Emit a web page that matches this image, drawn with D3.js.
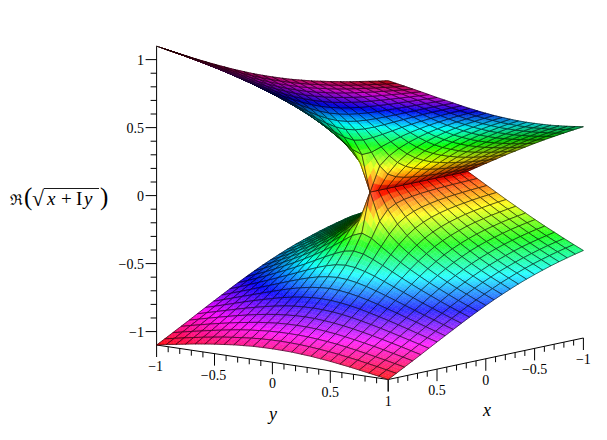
<!DOCTYPE html>
<html><head><meta charset="utf-8">
<script src="https://cdn.jsdelivr.net/npm/d3@7"></script>
<style>html,body{margin:0;padding:0;background:#fff}svg{display:block}text{font-family:"Liberation Serif",serif;fill:#000}</style>
</head><body><div id="c"></div><script>
const xGrid=[-1,-.9167,-.8333,-.75,-.6667,-.5833,-.5,-.4167,-.3333,-.25,-.1667,-.0833,0,.0833,.1667,.25,.3333,.4167,.5,.5833,.6667,.75,.8333,.9167,1];
const yGrid=xGrid;
// Height of the upper sheet along x, one list per |y| step (y = 0 ... 1). The lower sheet is its mirror image.
const zAtAbsY0=[0,0,0,0,0,0,0,0,0,0,0,0,0,.289,.408,.5,.577,.645,.707,.764,.816,.866,.913,.957,1];
const zAtAbsY1=[.042,.044,.046,.048,.051,.054,.059,.064,.072,.082,.099,.131,.204,.317,.420,.507,.582,.649,.710,.766,.818,.867,.914,.958,1.001];
const zAtAbsY2=[.083,.087,.091,.096,.101,.108,.116,.127,.140,.159,.186,.227,.289,.367,.449,.525,.594,.658,.717,.771,.823,.871,.917,.961,1.003];
const zAtAbsY3=[.124,.129,.135,.142,.151,.160,.172,.186,.204,.228,.259,.301,.354,.416,.483,.549,.612,.672,.728,.780,.830,.878,.923,.966,1.008];
const zAtAbsY4=[.165,.171,.179,.188,.198,.210,.225,.242,.263,.289,.321,.361,.408,.462,.519,.577,.634,.689,.742,.792,.840,.886,.930,.973,1.013];
const zAtAbsY5=[.204,.212,.222,.232,.245,.258,.274,.294,.317,.343,.375,.413,.456,.504,.555,.607,.658,.709,.759,.806,.852,.897,.939,.981,1.021];
const zAtAbsY6=[.243,.253,.263,.275,.289,.304,.322,.342,.366,.393,.424,.460,.500,.543,.589,.636,.683,.731,.777,.822,.866,.909,.950,.990,1.029];
const zAtAbsY7=[.281,.291,.303,.316,.331,.348,.366,.387,.411,.439,.469,.503,.540,.580,.622,.665,.709,.753,.796,.839,.881,.922,.962,1.001,1.039];
const zAtAbsY8=[.318,.329,.342,.356,.372,.389,.408,.430,.454,.480,.510,.543,.577,.614,.653,.694,.734,.776,.816,.857,.897,.936,.975,1.012,1.049];
const zAtAbsY9=[.353,.366,.379,.394,.410,.428,.448,.470,.493,.520,.548,.580,.612,.647,.684,.721,.760,.798,.837,.876,.914,.951,.989,1.025,1.061];
const zAtAbsY10=[.388,.401,.415,.431,.448,.466,.486,.508,.531,.557,.584,.614,.645,.679,.713,.748,.784,.821,.858,.895,.931,.967,1.003,1.038,1.073];
const zAtAbsY11=[.422,.436,.450,.466,.483,.501,.521,.543,.567,.591,.619,.647,.677,.708,.741,.775,.809,.844,.879,.914,.949,.983,1.018,1.052,1.085];
const zAtAbsY12=[.455,.469,.484,.500,.517,.536,.556,.577,.600,.625,.651,.678,.707,.737,.768,.800,.833,.866,.899,.933,.967,1.000,1.033,1.066,1.099];
const zByAbsY=[zAtAbsY0,zAtAbsY1,zAtAbsY2,zAtAbsY3,zAtAbsY4,zAtAbsY5,zAtAbsY6,zAtAbsY7,zAtAbsY8,zAtAbsY9,zAtAbsY10,zAtAbsY11,zAtAbsY12];
const zMajor=[-1,-.5,0,.5,1], zLabels=["−1","−0.5","0","0.5","1"];
const yMajor=[-1,-.5,0,.5,1], yLabels=["−1","−0.5","0","0.5","1"];
const xMajor=[.5,0,-.5,-1], xLabels=["0.5","0","−0.5","−1"];

const W=607,H=440;
const svg=d3.select("#c").append("svg").attr("width",W).attr("height",H).attr("viewBox",`0 0 ${W} ${H}`);
// oblique projection built out of linear scales
const xPx=d3.scaleLinear().domain([-1,1]).range([97.6,-97.6]);
const xPy=d3.scaleLinear().domain([-1,1]).range([-20.75,20.75]);
const yPx=d3.scaleLinear().domain([-1,1]).range([-115.8,115.8]);
const yPy=d3.scaleLinear().domain([-1,1]).range([-17.25,17.25]);
const zPy=d3.scaleLinear().domain([-1.0987,1.0987]).range([149.4,-149.4]);
const depthOf=(x,y,z)=>151.5*(.75*x+.64*y+.16*z);
const P=(x,y,z)=>[370+xPx(x)+yPx(y),192.1+xPy(x)+yPy(y)+zPy(z)];

const hue=d3.scaleLinear().domain([0,1.0987]).range([0,360]);
function shade(z,lit){
  const c=d3.rgb(d3.hsl(hue(Math.abs(z))%360,1,.5));
  const k=Math.min(lit,1), w=Math.max(0,Math.min((lit-1)*.3,.18));
  const f=v=>Math.round(v*k+(255-v*k)*w);
  return `rgb(${f(c.r)},${f(c.g)},${f(c.b)})`;
}
const n=xGrid.length;
function sheet(sign){
  const V=d3.range(n).map(i=>d3.range(n).map(j=>{
    const z=sign*zByAbsY[Math.abs(j-12)][i], p=P(xGrid[i],yGrid[j],z);
    return {z,p,q:[p[0],p[1],depthOf(xGrid[i],yGrid[j],z)],d:depthOf(xGrid[i],yGrid[j],z)};
  }));
  for(let i=0;i<n;i++)for(let j=0;j<n;j++){
    const a=V[Math.min(i+1,n-1)][j].q,b=V[Math.max(i-1,0)][j].q,c=V[i][Math.min(j+1,n-1)].q,e=V[i][Math.max(j-1,0)].q;
    const u=[a[0]-b[0],a[1]-b[1],a[2]-b[2]],w=[c[0]-e[0],c[1]-e[1],c[2]-e[2]];
    const m=[u[1]*w[2]-u[2]*w[1],u[2]*w[0]-u[0]*w[2],u[0]*w[1]-u[1]*w[0]];
    const nv=Math.abs(m[2])/Math.hypot(m[0],m[1],m[2]);
    V[i][j].lit=sign>0?.36+1.9*nv:.45+2*nv;
  }
  return V;
}
const cells=[];
[1,-1].forEach(s=>{const V=sheet(s);
  for(let i=0;i<n-1;i++)for(let j=0;j<n-1;j++){
    const c=[V[i][j],V[i+1][j],V[i+1][j+1],V[i][j+1]];
    cells.push({c,depth:d3.mean(c,d=>d.d)});
  }
});
cells.sort((a,b)=>a.depth-b.depth);
const SUB=3,items=[];
const path=pts=>"M"+pts.map(p=>p[0].toFixed(2)+","+p[1].toFixed(2)).join("L")+"Z";
cells.forEach(({c})=>{
  const at=(u,v)=>{
    const mix=g=>(1-u)*(1-v)*g(c[0])+u*(1-v)*g(c[1])+u*v*g(c[2])+(1-u)*v*g(c[3]);
    return {p:[mix(d=>d.p[0]),mix(d=>d.p[1])],z:mix(d=>d.z),lit:mix(d=>d.lit)};
  };
  for(let a=0;a<SUB;a++)for(let b=0;b<SUB;b++){
    const q=[at(a/SUB,b/SUB),at((a+1)/SUB,b/SUB),at((a+1)/SUB,(b+1)/SUB),at(a/SUB,(b+1)/SUB)];
    const m=at((a+.5)/SUB,(b+.5)/SUB), col=shade(m.z,m.lit);
    items.push({d:path(q.map(d=>d.p)),fill:col,stroke:col,sw:.4,op:1});
  }
  items.push({d:path(c.map(d=>d.p)),fill:"none",stroke:"#000",sw:1,op:.55});
});

// axes
const ax=svg.append("g").attr("stroke","#000").attr("stroke-width",1).attr("fill","none");
const A=P(1,-1,-1.0987),B=P(1,1,-1.0987),C=P(-1,1,-1.0987),T=P(1,-1,1.0987);
ax.append("path").attr("d",`M${T[0]},${T[1]}L${A[0]},${A[1]}L${B[0]},${B[1]}L${C[0]},${C[1]}`);
const minor=d3.scaleLinear().domain([-1,1]).ticks(20);
const isMajor=v=>Math.abs(v*2-Math.round(v*2))<1e-6;
ax.selectAll(".zt").data(minor).join("line").attr("class","zt")
 .attr("x1",A[0]).attr("x2",v=>A[0]-(isMajor(v)?11:6))
 .attr("y1",v=>P(1,-1,v)[1]).attr("y2",v=>P(1,-1,v)[1]);
ax.selectAll(".yt").data(minor).join("line").attr("class","yt")
 .attr("x1",v=>P(1,v,-1.0987)[0]).attr("x2",v=>P(1,v,-1.0987)[0])
 .attr("y1",v=>P(1,v,-1.0987)[1]).attr("y2",v=>P(1,v,-1.0987)[1]+(isMajor(v)?12:5.5));
ax.selectAll(".xt").data(minor).join("line").attr("class","xt")
 .attr("x1",v=>P(v,1,-1.0987)[0]).attr("x2",v=>P(v,1,-1.0987)[0])
 .attr("y1",v=>P(v,1,-1.0987)[1]).attr("y2",v=>P(v,1,-1.0987)[1]+(isMajor(v)?12:5.5));

svg.append("g").selectAll("path").data(items).join("path")
 .attr("d",d=>d.d).attr("fill",d=>d.fill).attr("stroke",d=>d.stroke)
 .attr("stroke-width",d=>d.sw).attr("stroke-opacity",d=>d.op).attr("stroke-linejoin","round");

const t=svg.append("g").attr("font-size",14);
t.selectAll(".zl").data(zMajor).join("text").attr("class","zl").attr("text-anchor","end")
 .attr("x",144).attr("y",v=>P(1,-1,v)[1]+5).text((v,i)=>zLabels[i]);
t.selectAll(".yl").data(yMajor).join("text").attr("class","yl").attr("text-anchor","middle")
 .attr("x",v=>P(1,v,-1.0987)[0]-(v<0?1:0)).attr("y",v=>P(1,v,-1.0987)[1]+26).text((v,i)=>yLabels[i]);
t.selectAll(".xl").data(xMajor).join("text").attr("class","xl").attr("text-anchor","middle")
 .attr("x",v=>P(v,1,-1.0987)[0]).attr("y",v=>P(v,1,-1.0987)[1]+26).text((v,i)=>xLabels[i]);
svg.append("text").attr("x",273).attr("y",420).attr("text-anchor","middle").attr("font-size",18).attr("font-style","italic").text("y");
svg.append("text").attr("x",487).attr("y",416).attr("text-anchor","middle").attr("font-size",18).attr("font-style","italic").text("x");

// z label
const lab=svg.append("text").attr("y",205).attr("font-size",19);
lab.append("tspan").attr("x",10).attr("font-family","DejaVu Serif").attr("font-size",15).text("ℜ");
lab.append("tspan").attr("x",24).attr("y",205).attr("font-size",25).text("(");
lab.append("tspan").attr("x",32).attr("y",206).attr("font-size",22).text("√");
lab.append("tspan").attr("x",47).attr("y",205).attr("font-style","italic").text("x");
lab.append("tspan").attr("x",61).text("+");
lab.append("tspan").attr("x",76).text("I");
lab.append("tspan").attr("x",84).attr("font-style","italic").text("y");
lab.append("tspan").attr("x",100).attr("y",205).attr("font-size",25).text(")");
svg.append("line").attr("x1",44).attr("x2",99).attr("y1",188.5).attr("y2",188.5).attr("stroke","#000").attr("stroke-width",.9);
</script></body></html>
